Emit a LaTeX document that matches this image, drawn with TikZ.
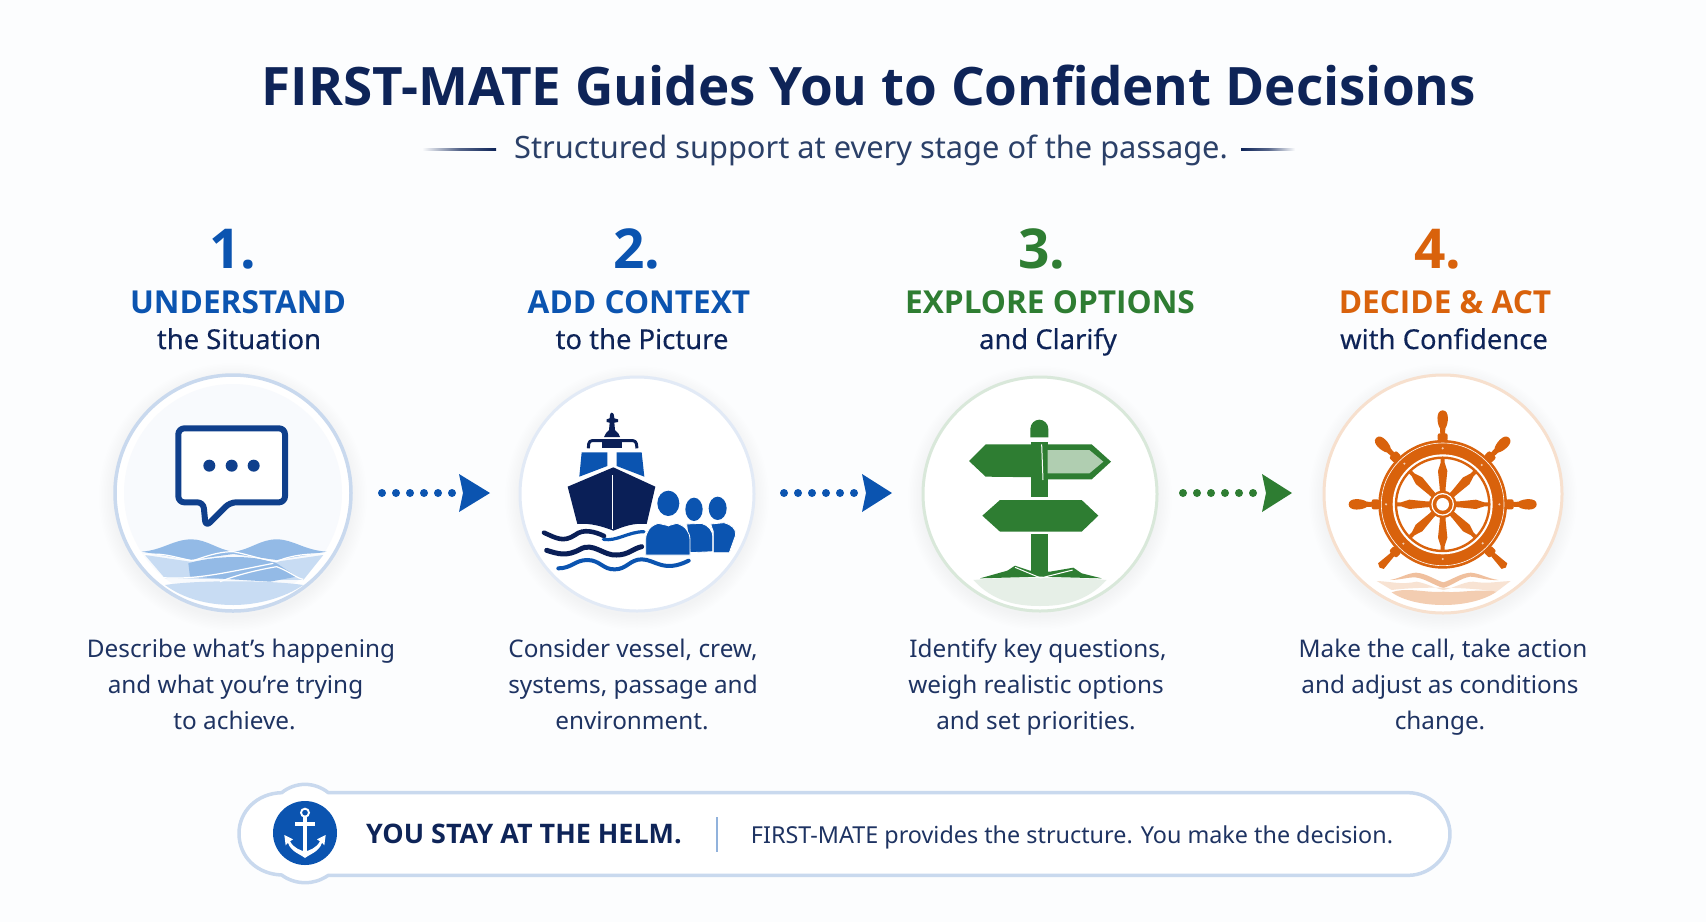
\documentclass[tikz,border=0pt]{standalone}
\usepackage{fontspec}
\usetikzlibrary{calc,fadings}
\setmainfont{Noto Sans}
\newfontfamily\medfont[FakeBold=0.3]{Noto Sans}
\newfontfamily\strongf{Open Sans}
\definecolor{bgc}{HTML}{FCFDFE}
\definecolor{navy}{HTML}{0E2458}
\definecolor{bodyc}{HTML}{1E3362}
\definecolor{subc}{HTML}{2B4068}
\definecolor{bluec}{HTML}{0B54B0}
\definecolor{deepb}{HTML}{0F3F8C}
\definecolor{hullc}{HTML}{0A1F57}
\definecolor{greenc}{HTML}{2E7D32}
\definecolor{orangec}{HTML}{D9620C}
\definecolor{seac}{HTML}{93BAE6}
\definecolor{sealight}{HTML}{C8DCF3}
\newcommand{\fs}[1]{\fontsize{#1}{#1}\selectfont}
\tikzset{
  x=1pt,y=-1pt,
  txt/.style={inner sep=0pt,outer sep=0pt,anchor=base,align=center},
  titlet/.style={txt,text=navy,font=\fs{53}\strongf\bfseries},
  subt/.style={txt,text=subc,font=\fs{30.8}},
  numt/.style={txt,font=\fs{55}\strongf\bfseries},
  headt/.style={txt,font=\fs{31.6}\strongf\bfseries},
  subh/.style={txt,text=navy,font=\fs{27.4}\medfont},
  desc/.style={txt,text=bodyc,font=\fs{24.3}},
  dots/.style={line width=8pt,line cap=round,dash pattern=on 0pt off 14pt},
  zoomed/.style={x=0.33333pt,y=-0.33333pt},
  disc/.style={circle,minimum size=#1,inner sep=0pt,outer sep=0pt}
}
\newcommand{\halo}[4]{% x,y,r,colour
  \foreach \k in {0,...,9}{\fill[#4,opacity=0.005] (#1,#2+4) circle[radius=#3+14-\k*1.5];}
}
\begin{document}
\begin{tikzpicture}
\useasboundingbox (0,0) rectangle (1706,922);
\fill[bgc] (0,0) rectangle (1706,922);

% title
\node[titlet] (title) at (869,105) {FIRST-MATE Guides You to Confident Decisions};
\node[subt] (subtitle) at (871,158) {Structured support at every stage of the passage.};
\coordinate (ll0) at (422,149);\coordinate (ll1) at (496,149);
\coordinate (rl0) at (1241,149);\coordinate (rl1) at (1295,149);
\shade[left color=bgc,right color=navy,middle color=navy!70] (ll0 |- 0,148) rectangle (ll1 |- 0,150);
\shade[right color=bgc,left color=navy,middle color=navy!70] (rl0 |- 0,148) rectangle (rl1 |- 0,150);

% numbers & headings
\node[numt,text=bluec] (n1) at (233,268) {1.};
\node[numt,text=bluec] (n2) at (637,268) {2.};
\node[numt,text=greenc] (n3) at (1042,268) {3.};
\node[numt,text=orangec] (n4) at (1438,268) {4.};
\node[headt,text=bluec] (h1) at (238,313) {UNDERSTAND};
\node[headt,text=bluec] (h2) at (639,313) {ADD CONTEXT};
\node[headt,text=greenc] (h3) at (1050,313) {EXPLORE OPTIONS};
\node[headt,text=orangec] (h4) at (1445,313) {DECIDE \& ACT};
\node[subh] (s1) at (239,349) {the Situation};
\node[subh] (s2) at (642,349) {to the Picture};
\node[subh] (s3) at (1048,349) {and Clarify};
\node[subh] (s4) at (1444,349) {with Confidence};

% circles
\halo{233}{493}{120}{bluec}
\halo{637}{494}{118}{bluec}
\halo{1040}{494}{118}{greenc}
\halo{1443}{494}{120}{orangec}
\node[disc=236pt,draw=bluec!22,line width=3.5pt,fill=white] (c1) at (233,493) {};
\fill[bluec!3!white] (233,493) circle[radius=109];
\node[disc=234pt,draw=bluec!12,line width=3pt,fill=white] (c2) at (637,494) {};
\node[disc=234pt,draw=greenc!18,line width=3pt,fill=white] (c3) at (1040,494) {};
\node[disc=238pt,draw=orangec!20,line width=3pt,fill=white] (c4) at (1443,494) {};

% icon 1 : speech bubble and sea
\begin{scope}[shift={(90pt,-350pt)},zoomed]
  \draw[deepb,line width=6pt,line join=round,rounded corners=6pt,fill=white]
    (300,235) -- (585,235) -- (585,457) -- (420,457) -- (347,530) -- (340,457) -- (265,457) -- (265,235) -- cycle;
  \foreach \px in {358,425,491}{\fill[deepb] (\px,347) circle[radius=18];}
  \fill[seac] (155,605) .. controls (220,600) and (250,568) .. (305,568) .. controls (350,568) and (385,600) .. (430,605)
     .. controls (480,600) and (510,568) .. (560,568) .. controls (610,568) and (640,600) .. (710,605) -- (560,630) -- (430,612) -- (300,630) -- cycle;
  \fill[sealight] (165,615) -- (300,635) -- (560,635) -- (700,615) -- (640,690) -- (225,685) -- cycle;
  \fill[seac] (295,640) .. controls (360,620) and (480,610) .. (560,640) -- (620,680) -- (540,695) -- (300,680) -- cycle;
  \fill[sealight] (225,705) .. controls (320,690) and (540,690) .. (640,705) .. controls (580,745) and (500,765) .. (430,765) .. controls (350,765) and (280,745) .. (225,705) -- cycle;
  \draw[white,line width=1.2pt] (160,615) .. controls (220,605) and (260,625) .. (310,632) .. controls (370,610) and (400,605) .. (430,605) .. controls (480,615) and (520,630) .. (560,635) .. controls (600,615) and (660,610) .. (705,612);
  \draw[white,line width=1.2pt] (220,683) .. controls (320,690) and (420,665) .. (550,640);
  \draw[white,line width=1.2pt] (390,695) .. controls (440,675) and (500,660) .. (560,650) .. controls (600,665) and (620,685) .. (640,688);
\end{scope}

% icon 2 : ship and crew
\begin{scope}[shift={(500pt,-360pt)},zoomed]
  \fill[hullc] (335,158) .. controls (342,158) and (343,170) .. (343,175) -- (354,178) -- (354,186) -- (343,188) -- (345,210) .. controls (352,218) and (360,222) .. (360,231) -- (312,231) .. controls (312,222) and (322,218) .. (327,210) -- (329,188) -- (320,186) -- (320,178) -- (329,175) .. controls (329,170) and (330,158) .. (335,158) -- cycle;
  \draw[hullc,line width=3pt,line join=round,rounded corners=3pt] (265,265) -- (267,242) -- (408,242) -- (411,265);
  \fill[hullc] (305,245) rectangle (367,263);
  \fill[bluec] (245,277) -- (322,277) -- (322,318) -- (238,350) -- cycle;
  \fill[bluec] (350,277) -- (425,277) -- (433,350) -- (350,318) -- cycle;
  \fill[hullc] (340,322) -- (466,380) -- (440,492) .. controls (400,488) and (370,500) .. (340,512) .. controls (310,500) and (270,488) .. (232,492) -- (203,380) -- cycle;
  \draw[white,line width=1pt] (338,345) -- (338,508);
  \draw[hullc,line width=4.6pt,line cap=round] (132,518) .. controls (170,535) and (190,548) .. (225,525) .. controls (250,505) and (285,515) .. (312,528);
  \draw[bluec,line width=3.2pt,line cap=round] (310,538) .. controls (350,545) and (385,515) .. (432,515);
  \draw[hullc,line width=5pt,line cap=round] (140,571) .. controls (175,582) and (200,590) .. (240,568) .. controls (280,545) and (310,588) .. (350,585) .. controls (385,585) and (400,565) .. (425,560);
  \draw[bluec,line width=4pt,line cap=round] (175,625) .. controls (215,625) and (225,600) .. (262,600) .. controls (300,600) and (310,630) .. (345,628) .. controls (380,628) and (390,598) .. (425,598) .. controls (465,598) and (490,640) .. (566,602);
  \foreach \hx/\hy/\hrx/\hry/\body in {
      653/445/27/35/{(632,492) -- (672,488) .. controls (695,495) and (708,505) .. (707,525) -- (688,578) -- (640,578) -- (640,515) -- cycle},
      582/448/26/35/{(560,492) -- (605,490) .. controls (625,497) and (640,510) .. (638,535) -- (638,575) -- (570,578) -- cycle},
      505/430/33/38/{(475,490) .. controls (450,497) and (437,515) .. (437,540) -- (437,585) -- (570,585) -- (570,540) .. controls (570,515) and (555,497) .. (530,490) -- (505,497) -- cycle}}{
    \fill[bluec,draw=white,line width=0.8pt] \body;
    \fill[bluec] (\hx,\hy) ellipse[x radius=\hrx,y radius=\hry];
  }
  \draw[white,line width=0.7pt] (495,488) -- (505,498) -- (518,488);
\end{scope}

% icon 3 : signpost
\begin{scope}[shift={(900pt,-360pt)},zoomed]
  \fill[greenc!12] (220,660) .. controls (330,650) and (510,650) .. (620,660) .. controls (560,725) and (490,738) .. (420,738) .. controls (350,738) and (280,725) .. (220,660) -- cycle;
  \fill[greenc] (391,232) -- (391,207) .. controls (391,190) and (405,179) .. (418,179) .. controls (431,179) and (445,190) .. (445,207) -- (445,232) -- cycle;
  \fill[greenc] (392,246) rectangle (444,410);
  \fill[greenc] (392,523) rectangle (444,640);
  \fill[greenc] (207,303) -- (257,253) -- (425,253) -- (425,352) -- (257,350) -- cycle;
  \fill[white] (392,240) rectangle (444,246);
  \draw[white,line width=1pt] (425,253) -- (429,360);
  \fill[greenc] (433,253) -- (575,253) -- (633,305) -- (575,358) -- (433,358) -- cycle;
  \fill[greenc!38] (443,270) -- (568,270) -- (610,305) -- (568,340) -- (443,340) -- cycle;
  \fill[greenc] (247,467) -- (300,420) -- (545,420) -- (595,467) -- (545,515) -- (300,515) -- cycle;
  \fill[greenc] (240,655) -- (322,632) -- (345,617) -- (390,632) -- (450,635) -- (520,623) -- (545,640) -- (605,655) -- (420,650) -- cycle;
  \draw[white,line width=1pt] (345,622) -- (422,654) -- (518,630);
\end{scope}

% icon 4 : ship's wheel
\begin{scope}[shift={(1300pt,-360pt)},zoomed]
  \fill[orangec!40] (270,660) .. controls (300,655) and (320,640) .. (348,638) .. controls (380,640) and (405,660) .. (430,667) .. controls (455,660) and (480,640) .. (512,638) .. controls (540,640) and (560,655) .. (595,660) .. controls (560,662) and (530,650) .. (510,650) .. controls (480,655) and (460,675) .. (430,684) .. controls (400,675) and (375,655) .. (345,652) .. controls (320,652) and (300,660) .. (270,660) -- cycle;
  \fill[orangec!18] (230,663) .. controls (280,665) and (300,675) .. (350,665) .. controls (380,670) and (405,685) .. (430,690) .. controls (460,685) and (490,665) .. (520,665) .. controls (560,672) and (590,665) .. (632,663) -- (590,695) .. controls (500,680) and (350,680) .. (275,690) -- cycle;
  \fill[orangec!32] (275,697) .. controls (320,680) and (380,700) .. (430,695) .. controls (480,700) and (540,685) .. (590,695) .. controls (550,722) and (490,735) .. (430,735) .. controls (370,735) and (310,722) .. (275,697) -- cycle;
  \foreach \ang in {0,45,90,135,180}{
    \begin{scope}[shift={(428,433)},rotate=\ang]
      \fill[orangec,rounded corners=2pt] (190,-15) rectangle (213,15);
      \fill[orangec] (210,-7) -- (228,-8) .. controls (240,-17) and (282,-22) .. (282,0) .. controls (282,22) and (240,17) .. (228,8) -- (210,7) -- cycle;
    \end{scope}}
  \foreach \ang in {-45,-135}{
    \begin{scope}[shift={(428,433)},rotate=\ang]
      \fill[orangec,rounded corners=2pt] (190,-15) rectangle (213,15);
      \fill[orangec] (210,-7) -- (262,-12) -- (268,0) -- (262,12) -- (210,7) -- cycle;
    \end{scope}}
  \fill[orangec] (428,433) circle[radius=193];
  \draw[white,line width=0.6pt] (428,433) circle[radius=184];
  \fill[white] (428,433) circle[radius=150];
  \draw[orangec,line width=2.4pt] (428,433) circle[radius=140];
  \foreach \ang in {0,45,...,315}{
    \begin{scope}[shift={(428,433)},rotate=\ang]
      \fill[orangec] (30,-8) -- (50,-9) -- (100,-14) -- (125,-6) -- (138,-6) -- (138,6) -- (125,6) -- (100,14) -- (50,9) -- (30,8) -- cycle;
    \end{scope}}
  \fill[orangec] (428,433) circle[radius=41];
  \fill[white] (428,433) circle[radius=34];
  \fill[orangec] (428,433) circle[radius=30];
  \fill[white] (428,433) circle[radius=19];
  \foreach \rx/\ry in {428/265,598/433,428/597,258/433,313/311,310/551,545/315,548/550}{\fill[white,opacity=.7] (\rx,\ry) circle[radius=3.5];}
\end{scope}

% step connectors
\coordinate (a1s) at (382,493);\coordinate (a1e) at (455,493);
\coordinate (a2s) at (784,493);\coordinate (a2e) at (856,493);
\coordinate (a3s) at (1183,493);\coordinate (a3e) at (1258,493);
\draw[dots,bluec] (a1s) -- (a1e);
\draw[dots,bluec] (a2s) -- (a2e);
\draw[dots,greenc] (a3s) -- (a3e);
\fill[bluec] (459,474) -- (490,493) -- (459,512) -- (463,493) -- cycle;
\fill[bluec] (862,474) -- (892,493) -- (862,512) -- (866,493) -- cycle;
\fill[greenc] (1262,474) -- (1292,493) -- (1262,512) -- (1266,493) -- cycle;

% descriptions
\node[desc] (d11) at (241,657) {Describe what’s happening};
\node[desc] (d12) at (235.5,693) {and what you’re trying};
\node[desc] (d13) at (234.5,729) {to achieve.};
\node[desc] (d21) at (633,657) {Consider vessel, crew,};
\node[desc] (d22) at (633,693) {systems, passage and};
\node[desc] (d23) at (632,729) {environment.};
\node[desc] (d31) at (1038,657) {Identify key questions,};
\node[desc] (d32) at (1036,693) {weigh realistic options};
\node[desc] (d33) at (1036,729) {and set priorities.};
\node[desc] (d41) at (1443,657) {Make the call, take action};
\node[desc] (d42) at (1440,693) {and adjust as conditions};
\node[desc] (d43) at (1440,729) {change.};

% bottom banner
\begin{scope}[shift={(220pt,-770pt)},zoomed]
  \path[fill=white,draw=bluec!22,line width=3.5pt,line join=round]
    (325,68) -- (3565,68) .. controls (3630,68) and (3690,125) .. (3690,192) .. controls (3690,260) and (3630,316) .. (3565,316) -- (325,316)
    .. controls (300,332) and (280,338) .. (255,338) .. controls (230,338) and (205,330) .. (185,315)
    .. controls (110,312) and (57,260) .. (57,190) .. controls (57,125) and (110,70) .. (185,68)
    .. controls (205,52) and (230,43) .. (255,43) .. controls (280,43) and (305,52) .. (325,68) -- cycle;
\end{scope}
\node[disc=64pt,fill=bluec] (anch) at (305,833) {};
\begin{scope}[shift={(220pt,-770pt)},zoomed]
  \draw[white,line width=1.9pt] (255,128) circle[radius=12];
  \fill[white] (248,140) rectangle (262,250);
  \fill[white] (225,155) rectangle (285,167);
  \fill[white] (193,195) -- (219,208) -- (210,214) .. controls (222,235) and (240,240) .. (255,245) .. controls (270,240) and (288,235) .. (300,214) -- (291,208) -- (317,195) -- (313,226) -- (306,218) .. controls (298,245) and (270,252) .. (255,264) .. controls (240,252) and (212,245) .. (204,218) -- (197,226) -- cycle;
\end{scope}
\node[txt,text=navy,font=\fs{26.9}\strongf\bfseries] (helm) at (524,843.5) {YOU STAY AT THE HELM.};
\coordinate (sep0) at (717,817);\coordinate (sep1) at (717,852);
\draw[bluec!45,line width=1.2pt] (sep0) -- (sep1);
\node[txt,text=bodyc,font=\fs{23.35}] (tag) at (1072,843.5) {FIRST-MATE provides the structure. You make the decision.};
\end{tikzpicture}
\end{document}
